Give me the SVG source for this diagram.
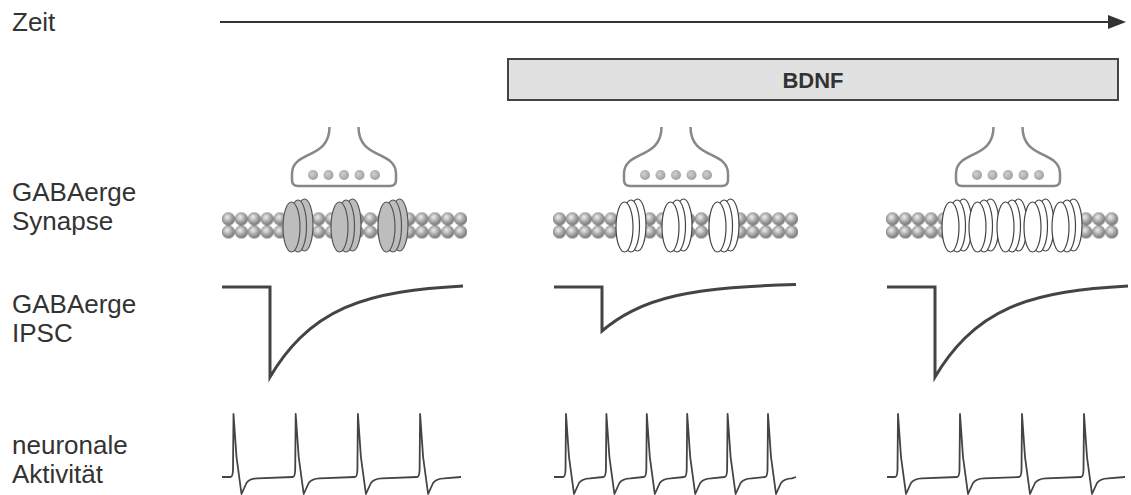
<svg xmlns="http://www.w3.org/2000/svg" xmlns:xlink="http://www.w3.org/1999/xlink" width="1131" height="495" viewBox="0 0 1131 495">
  <style>
    .lbl { font-family: "Liberation Sans", Arial, sans-serif; font-size: 26px; fill: #333; }
    .bdnf { font-family: "Liberation Sans", Arial, sans-serif; font-size: 22px; font-weight: bold; fill: #333; }
    .bouton { fill: none; stroke: #888; stroke-width: 2.5; }
    .ipsc { fill: none; stroke: #444; stroke-width: 3; stroke-linejoin: miter; }
    .ap { fill: none; stroke: #444; stroke-width: 1.8; stroke-linejoin: round; }
    .chan-gray { fill: #bdbdbd; stroke: #555; stroke-width: 1.2; }
    .chan-white { fill: #fff; stroke: #444; stroke-width: 1.2; }
  </style>
  <defs>
    <radialGradient id="ballG" cx="0.4" cy="0.35" r="0.7">
      <stop offset="0" stop-color="#f0f0f0"/>
      <stop offset="0.55" stop-color="#a4a4a4"/>
      <stop offset="1" stop-color="#707070"/>
    </radialGradient>
    <radialGradient id="vesG" cx="0.4" cy="0.4" r="0.7">
      <stop offset="0" stop-color="#d0d0d0"/>
      <stop offset="1" stop-color="#999"/>
    </radialGradient>
    <!-- two rows of lipid heads -->
    <pattern id="lipids" width="12.9" height="26" patternUnits="userSpaceOnUse">
      <circle cx="6.45" cy="6.5" r="6.2" fill="url(#ballG)" stroke="#666" stroke-width="0.6"/>
      <circle cx="6.45" cy="19.5" r="6.2" fill="url(#ballG)" stroke="#666" stroke-width="0.6"/>
    </pattern>
    <!-- receptor: three stacked subunits, back to front -->
    <g id="receptor">
      <ellipse cx="6.5" cy="225" rx="8.5" ry="26"/>
      <ellipse cx="0" cy="226" rx="8.5" ry="26"/>
      <ellipse cx="-6.5" cy="227" rx="8.5" ry="25"/>
    </g>
    <!-- presynaptic bouton with five vesicles, centred on x=0 -->
    <g id="bouton">
      <path class="bouton" d="M-14.5,127 C-14.5,160 -52,150 -52,174 V180 Q-52,186 -46,186 H46 Q52,186 52,180 V174 C52,150 14.5,160 14.5,127"/>
      <g fill="url(#vesG)">
        <circle cx="-31" cy="175" r="5"/>
        <circle cx="-15.5" cy="175" r="5"/>
        <circle cx="0" cy="175" r="5"/>
        <circle cx="15.5" cy="175" r="5"/>
        <circle cx="31" cy="175" r="5"/>
      </g>
    </g>
  </defs>

  <rect width="1131" height="495" fill="#fff"/>

  <!-- row labels -->
  <g id="labels">
    <text class="lbl" x="12" y="31">Zeit</text>
    <text class="lbl" x="12" y="201">GABAerge</text>
    <text class="lbl" x="12" y="230">Synapse</text>
    <text class="lbl" x="12" y="313">GABAerge</text>
    <text class="lbl" x="12" y="342">IPSC</text>
    <text class="lbl" x="12" y="454">neuronale</text>
    <text class="lbl" x="12" y="483">Aktivität</text>
  </g>

  <!-- time axis -->
  <g id="time-axis">
    <line x1="220" y1="22" x2="1110" y2="22" stroke="#333" stroke-width="2"/>
    <polygon points="1108,15 1126,22 1108,29" fill="#333"/>
  </g>

  <!-- BDNF application bar -->
  <g id="bdnf">
    <rect x="508" y="59" width="610" height="41" fill="#e1e1e1" stroke="#444" stroke-width="2"/>
    <text class="bdnf" x="813" y="88" text-anchor="middle">BDNF</text>
  </g>

  <!-- synapse, control -->
  <g id="synapse-1">
    <use xlink:href="#bouton" x="344"/>
    <g transform="translate(222,212.5)"><rect width="245" height="26" fill="url(#lipids)"/></g>
    <use xlink:href="#receptor" class="chan-gray" x="298"/>
    <use xlink:href="#receptor" class="chan-gray" x="346"/>
    <use xlink:href="#receptor" class="chan-gray" x="393"/>
  </g>

  <!-- synapse, BDNF early -->
  <g id="synapse-2">
    <use xlink:href="#bouton" x="676"/>
    <g transform="translate(553,212.5)"><rect width="245" height="26" fill="url(#lipids)"/></g>
    <use xlink:href="#receptor" class="chan-white" x="631"/>
    <use xlink:href="#receptor" class="chan-white" x="677"/>
    <use xlink:href="#receptor" class="chan-white" x="724"/>
  </g>

  <!-- synapse, BDNF late -->
  <g id="synapse-3">
    <use xlink:href="#bouton" x="1008"/>
    <g transform="translate(886,212.5)"><rect width="232.2" height="26" fill="url(#lipids)"/></g>
    <use xlink:href="#receptor" class="chan-white" x="957"/>
    <use xlink:href="#receptor" class="chan-white" x="984"/>
    <use xlink:href="#receptor" class="chan-white" x="1012"/>
    <use xlink:href="#receptor" class="chan-white" x="1039"/>
    <use xlink:href="#receptor" class="chan-white" x="1067"/>
  </g>

  <!-- inhibitory postsynaptic currents -->
  <g id="ipsc">
    <path class="ipsc" transform="translate(270,0)" d="M-48,287 H0 V377 C10,360.21 20,347.85 30,338.02 C45,323.28 60,314.23 75,307.63 C93.33,299.57 111.67,295.25 130,292.23 C151,288.77 172,287.12 193,286"/>
    <path class="ipsc" transform="translate(602,0)" d="M-48,287 H0 V331 C10,322.42 20,316.11 30,311.09 C45,303.57 60,298.95 75,295.58 C93.33,291.46 111.67,289.25 130,287.71 C151,285.95 172,285.1 194,284.6"/>
    <path class="ipsc" transform="translate(935,0)" d="M-48,287 H0 V377 C10,360.21 20,347.85 30,338.02 C45,323.28 60,314.23 75,307.63 C93.33,299.57 111.67,295.25 130,292.23 C151,288.77 172,287.12 193,286"/>
  </g>

  <!-- action potential trains -->
  <g id="activity">
    <path class="ap" d="M222,477 H230.5
      c1.5,0 2.3,-2 2.5,-7 l0.5,-56 l3,43 l5,37 l5,-11 c2,-3 5,-4.5 11,-4.7 l35.2,-1.3
      c1.5,0 2.3,-2 2.5,-7 l0.5,-56 l3,43 l5,37 l5,-11 c2,-3 5,-4.5 11,-4.7 l35.2,-1.3
      c1.5,0 2.3,-2 2.5,-7 l0.5,-56 l3,43 l5,37 l5,-11 c2,-3 5,-4.5 11,-4.7 l35.2,-1.3
      c1.5,0 2.3,-2 2.5,-7 l0.5,-56 l3,43 l5,37 l5,-11 c2,-3 5,-4.5 11,-4.7 L461,477"/>
    <path class="ap" d="M554,477 H563
      c1.5,0 2.3,-2 2.5,-7 l0.5,-56 l3,43 l5,37 l5,-11 c2,-3 5,-4.5 11,-4.7 l13.4,-1.3
      c1.5,0 2.3,-2 2.5,-7 l0.5,-56 l3,43 l5,37 l5,-11 c2,-3 5,-4.5 11,-4.7 l13.4,-1.3
      c1.5,0 2.3,-2 2.5,-7 l0.5,-56 l3,43 l5,37 l5,-11 c2,-3 5,-4.5 11,-4.7 l13.4,-1.3
      c1.5,0 2.3,-2 2.5,-7 l0.5,-56 l3,43 l5,37 l5,-11 c2,-3 5,-4.5 11,-4.7 l13.4,-1.3
      c1.5,0 2.3,-2 2.5,-7 l0.5,-56 l3,43 l5,37 l5,-11 c2,-3 5,-4.5 11,-4.7 l13.4,-1.3
      c1.5,0 2.3,-2 2.5,-7 l0.5,-56 l3,43 l5,37 l5,-11 c2,-3 5,-4.5 11,-4.7 L796,477"/>
    <path class="ap" d="M887,477 H895
      c1.5,0 2.3,-2 2.5,-7 l0.5,-56 l3,43 l5,37 l5,-11 c2,-3 5,-4.5 11,-4.7 l35,-1.3
      c1.5,0 2.3,-2 2.5,-7 l0.5,-56 l3,43 l5,37 l5,-11 c2,-3 5,-4.5 11,-4.7 l35,-1.3
      c1.5,0 2.3,-2 2.5,-7 l0.5,-56 l3,43 l5,37 l5,-11 c2,-3 5,-4.5 11,-4.7 l35,-1.3
      c1.5,0 2.3,-2 2.5,-7 l0.5,-56 l3,43 l5,37 l5,-11 c2,-3 5,-4.5 11,-4.7 L1125,477"/>
  </g>
</svg>
